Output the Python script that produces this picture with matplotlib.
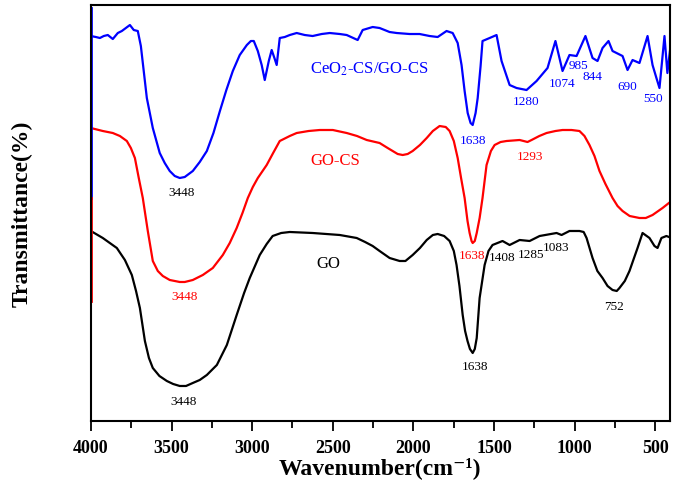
import matplotlib
matplotlib.use("Agg")
import matplotlib.pyplot as plt

# CeO2-CS/GO-CS (blue), wavenumber (cm-1) and offset transmittance (a.u.)
blue_wn = [4000, 3969, 3944, 3920, 3895, 3864, 3833, 3808, 3783, 3758, 3734, 3709,
           3690, 3653, 3616, 3573, 3542, 3511, 3480, 3449, 3418, 3368, 3325, 3281,
           3240, 3200, 3160, 3120, 3077, 3033, 3008, 2990, 2965, 2941, 2922, 2897,
           2879, 2860, 2848, 2829, 2798, 2767, 2724, 2674, 2625, 2569, 2519, 2457,
           2414, 2346, 2315, 2253, 2210, 2148, 2104, 2024, 1962, 1900, 1850, 1795,
           1757, 1726, 1702, 1683, 1664, 1646, 1633, 1615, 1602, 1584, 1572, 1528,
           1485, 1454, 1404, 1361, 1299, 1237, 1169, 1120, 1076, 1033, 989, 934,
           890, 859, 828, 791, 766, 704, 673, 642, 599, 549, 518, 494,
           475, 444, 426, 401]
blue_t = [385, 384, 383, 385, 386, 382, 388, 390, 393, 396, 391, 390,
          375, 323, 293, 268, 258, 250, 245, 243, 244, 250, 259, 270,
          288, 310, 331, 350, 366, 376, 380, 380, 370, 356, 341, 360,
          371, 362, 356, 383, 384, 386, 388, 386, 385, 387, 388, 387,
          386, 381, 391, 394, 393, 389, 388, 387, 387, 385, 384, 390,
          388, 378, 356, 330, 308, 298, 296, 308, 323, 355, 380, 383,
          386, 360, 336, 333, 331, 340, 353, 380, 350, 366, 365, 385,
          363, 360, 373, 380, 370, 365, 351, 361, 358, 385, 356, 343,
          333, 385, 348, 383]

# GO-CS (red)
red_wn = [4000, 3926, 3864, 3820, 3777, 3752, 3727, 3703, 3678, 3647, 3616, 3585,
          3554, 3511, 3480, 3449, 3418, 3368, 3306, 3244, 3182, 3139, 3096, 3060,
          3027, 2996, 2965, 2910, 2870, 2829, 2767, 2724, 2650, 2581, 2500, 2414,
          2350, 2290, 2210, 2160, 2129, 2098, 2067, 2036, 2005, 1960, 1918, 1880,
          1838, 1800, 1776, 1750, 1726, 1705, 1683, 1665, 1652, 1640, 1633, 1620,
          1608, 1590, 1572, 1547, 1520, 1497, 1460, 1423, 1342, 1293, 1268, 1220,
          1175, 1120, 1076, 1020, 971, 940, 909, 878, 847, 810, 766, 735, 704,
          660, 599, 560, 518, 456, 401]
red_t = [293, 290, 288, 285, 280, 273, 263, 243, 223, 190, 160, 150,
         145, 141, 140, 139, 139, 141, 146, 153, 166, 178, 193, 208,
         223, 234, 243, 256, 268, 280, 285, 288, 290, 291, 291, 288,
         285, 281, 278, 273, 270, 267, 266, 267, 270, 276, 283, 290,
         295, 294, 290, 280, 263, 243, 223, 200, 188, 180, 178, 180,
         188, 203, 223, 256, 270, 276, 279, 280, 281, 279, 281, 285,
         288, 290, 291, 291, 290, 285, 276, 265, 250, 237, 223, 215, 210,
         205, 203, 203, 206, 213, 220]

# GO (black)
black_wn = [4000, 3926, 3839, 3789, 3746, 3720, 3696, 3665, 3640, 3616, 3575, 3529,
            3490, 3449, 3410, 3368, 3325, 3281, 3219, 3157, 3096, 3050, 3015, 2953,
            2910, 2873, 2820, 2767, 2625, 2457, 2352, 2300, 2253, 2210, 2148, 2086,
            2050, 2005, 1960, 1918, 1880, 1850, 1810, 1776, 1750, 1733, 1715, 1695,
            1680, 1665, 1650, 1633, 1620, 1608, 1590, 1559, 1535, 1510, 1448, 1404,
            1342, 1280, 1218, 1113, 1082, 1033, 971, 945, 927, 890, 860, 828, 797,
            766, 740, 723, 690, 661, 635, 611, 580, 537, 506, 487, 463, 432, 401]
black_t = [190, 183, 173, 161, 146, 130, 113, 80, 63, 53, 45, 40,
           37, 35, 35, 38, 41, 46, 56, 76, 106, 128, 143, 166,
           177, 185, 188, 189, 188, 186, 183, 179, 175, 170, 163, 160,
           160, 166, 173, 181, 186, 187, 185, 180, 170, 156, 135, 106,
           90, 80, 72, 68, 72, 83, 123, 156, 170, 176, 180, 176,
           181, 180, 185, 188, 186, 190, 190, 189, 183, 163, 150, 143, 135,
           131, 130, 133, 140, 150, 162, 173, 188, 183, 175, 173, 183, 185, 183]

# peak labels: (text, wavenumber, y, colour)
peak_labels = [
    ("3448", 3436, 229, "black"),
    ("1638", 1633, 281, "#0000ff"),
    ("1280", 1299, 320, "#0000ff"),
    ("1074", 1076, 338, "#0000ff"),
    ("985", 977, 356, "#0000ff"),
    ("844", 890, 345, "#0000ff"),
    ("690", 673, 335, "#0000ff"),
    ("550", 512, 323, "#0000ff"),
    ("3448", 3418, 125, "#ff0000"),
    ("1638", 1640, 166, "#ff0000"),
    ("1293", 1280, 265, "#ff0000"),
    ("3448", 3424, 20, "black"),
    ("1638", 1621, 55, "black"),
    ("1408", 1448, 164, "black"),
    ("1285", 1274, 167, "black"),
    ("1083", 1119, 174, "black"),
    ("752", 754, 115, "black"),
]

serif = ["Liberation Serif", "DejaVu Serif"]
plt.rcParams["font.family"] = serif
plt.rcParams["mathtext.fontset"] = "stix"

fig = plt.figure(figsize=(6.73, 4.81), dpi=100)
ax = fig.add_axes([0.135, 0.1227, 0.8605, 0.8648])

ax.plot(blue_wn, blue_t, color="#0000ff", lw=1.6)
ax.plot(red_wn, red_t, color="#ff0000", lw=1.6)
ax.plot(black_wn, black_t, color="black", lw=1.6)

# curve ends drawn down the left frame, as in the original export
ax.axvline(4000, ymin=0.536, ymax=0.993, color="#0000ff", lw=2)
ax.axvline(4000, ymin=0.288, ymax=0.536, color="#ff0000", lw=2)

for txt, wn, yy, col in peak_labels:
    ax.text(wn, yy, txt, color=col, fontsize=9.5, ha="center", va="center")

ax.text(2272, 353, r"CeO$_2$-CS/GO-CS", color="#0000ff", fontsize=12,
        ha="center", va="center")
ax.text(2488, 261, "GO-CS", color="#ff0000", fontsize=12, ha="center", va="center")
ax.text(2526, 158, "GO", color="black", fontsize=12, ha="center", va="center")

ax.set_xlim(4000, 410)
ax.set_ylim(0, 416)
ax.set_yticks([])
ax.set_xticks([4000, 3500, 3000, 2500, 2000, 1500, 1000, 500])
ax.set_xticks([3750, 3250, 2750, 2250, 1750, 1250, 750], minor=True)
ax.tick_params(axis="x", which="major", direction="out", length=7, width=1.3, pad=6)
ax.tick_params(axis="x", which="minor", direction="out", length=5, width=1.3)
for lab in ax.get_xticklabels():
    lab.set_fontweight("bold")
    lab.set_fontsize(13)
for sp in ax.spines.values():
    sp.set_linewidth(1.5)

ax.set_xlabel("Wavenumber(cm\u207b\u00b9)", fontsize=17, fontweight="bold")
ax.xaxis.set_label_coords(0.5, -0.137)
ax.xaxis.label.set_va("bottom")
ax.set_ylabel("Transmittance(%)", fontsize=17, fontweight="bold")
ax.yaxis.set_label_coords(-0.10, 0.5)

fig.savefig("out.png", dpi=100)
